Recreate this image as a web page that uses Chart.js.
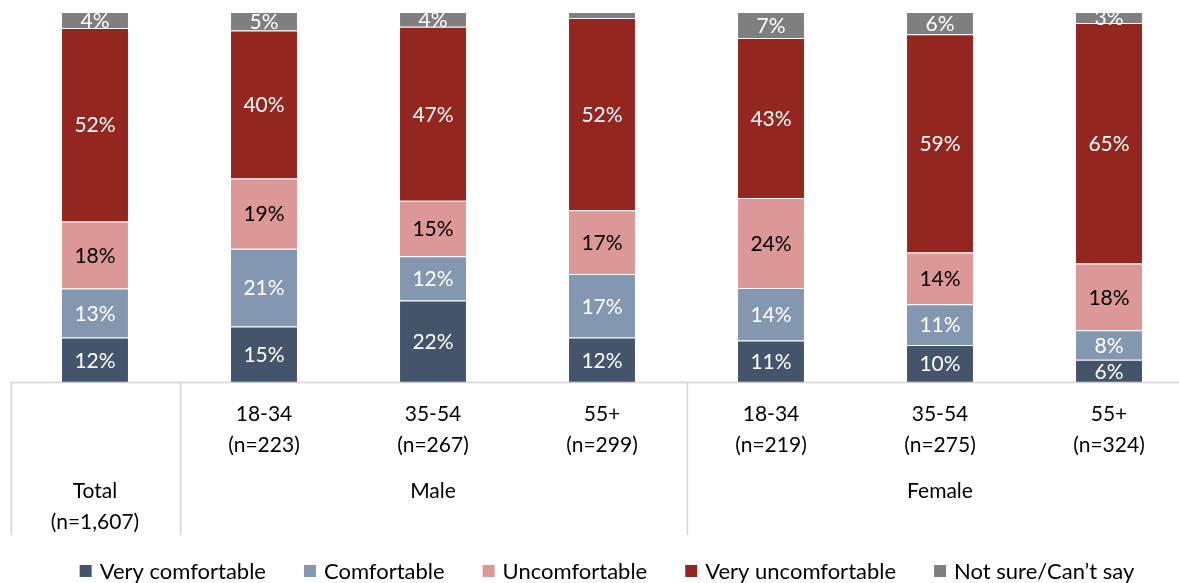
<!DOCTYPE html>
<html>
<head>
<meta charset="utf-8">
<script src="https://cdn.jsdelivr.net/npm/chart.js@4/dist/chart.umd.min.js"></script>
<style>
  html, body { margin: 0; padding: 0; background: #fff; overflow: hidden; }
  #wrap { position: relative; width: 1200px; height: 583px; }
</style>
</head>
<body>
<div id="wrap"><canvas id="chart"></canvas></div>
<script>
// Comfort level by gender and age, 100% stacked
const categoryLabels = [
  ["Total", "(n=1,607)"],
  ["18-34", "(n=223)"],
  ["35-54", "(n=267)"],
  ["55+", "(n=299)"],
  ["18-34", "(n=219)"],
  ["35-54", "(n=275)"],
  ["55+", "(n=324)"],
]
const groupLabels = ["", "Male", "Male", "Male", "Female", "Female", "Female"]

const veryComfortable = [12.0, 15, 22, 12.0, 11.2, 10, 6]
const comfortable = [13.3, 21, 12, 17.2, 14.2, 11, 8]
const uncomfortable = [18.1, 19, 15, 17.2, 24.3, 14, 18]
const veryUncomfortable = [52.3, 40, 47, 52.0, 43.3, 59, 65]
const notSure = [4.3, 5, 4, 1.6, 7.0, 6, 3]

const FONT = "Lato, 'Open Sans', sans-serif"

const series = [
  { label: "Very comfortable", data: veryComfortable, color: "#44546a", text: "#ffffff" },
  { label: "Comfortable", data: comfortable, color: "#8497b0", text: "#ffffff" },
  { label: "Uncomfortable", data: uncomfortable, color: "#dc9896", text: "#000000" },
  { label: "Very uncomfortable", data: veryUncomfortable, color: "#93261f", text: "#ffffff" },
  { label: "Not sure/Can\u2019t say", data: notSure, color: "#7f7f7f", text: "#ffffff" },
]

// value labels centred in each segment
const segmentLabels = {
  id: "segmentLabels",
  afterDatasetsDraw(chart) {
    const { ctx } = chart
    ctx.save()
    ctx.font = `21px ${FONT}`
    ctx.textAlign = "center"
    ctx.textBaseline = "middle"
    chart.data.datasets.forEach((ds, di) => {
      chart.getDatasetMeta(di).data.forEach((bar, i) => {
        const v = Math.round(ds.data[i])
        if (v < 3) return
        ctx.fillStyle = series[di].text
        ctx.fillText(`${v}%`, bar.x, (bar.y + bar.base) / 2 + 1)
      })
    })
    ctx.restore()
  },
}

// table-style axis: separator lines, category labels, group labels, legend
const tableAxis = {
  id: "tableAxis",
  afterDraw(chart) {
    const { ctx, chartArea } = chart
    const x = chart.scales.x
    const bottom = chartArea.bottom
    const step = x.getPixelForValue(1) - x.getPixelForValue(0)
    const edge = (i) => x.getPixelForValue(i) - step / 2

    ctx.save()
    ctx.strokeStyle = "#d4d4d4"
    ctx.lineWidth = 1.5
    ctx.beginPath()
    ctx.moveTo(edge(0), bottom + 0.5)
    ctx.lineTo(chart.width, bottom + 0.5)
    ;[0, 1, 4].forEach((i) => {
      const px = Math.round(edge(i)) + 0.5
      ctx.moveTo(px, bottom)
      ctx.lineTo(px, bottom + 153)
    })
    ctx.stroke()

    ctx.font = `21px ${FONT}`
    ctx.fillStyle = "#000000"
    ctx.textAlign = "center"
    ctx.textBaseline = "middle"
    categoryLabels.forEach((lines, i) => {
      const cx = x.getPixelForValue(i)
      const y0 = groupLabels[i] === "" ? bottom + 109 : bottom + 32
      lines.forEach((line, k) => ctx.fillText(line, cx, y0 + k * 31))
    })

    const groups = {}
    groupLabels.forEach((g, i) => {
      if (!g) return
      groups[g] = groups[g] || []
      groups[g].push(x.getPixelForValue(i))
    })
    Object.entries(groups).forEach(([g, xs]) => {
      ctx.fillText(g, (xs[0] + xs[xs.length - 1]) / 2, bottom + 109)
    })

    // legend
    ctx.font = `22px ${FONT}`
    const box = 12
    const gapText = 8
    const gapItem = 38
    const widths = chart.data.datasets.map((ds) => box + gapText + ctx.measureText(ds.label).width)
    const total = widths.reduce((a, b) => a + b, 0) + gapItem * (widths.length - 1)
    let lx = 607 - total / 2
    const ly = 571
    ctx.textAlign = "left"
    chart.data.datasets.forEach((ds, i) => {
      ctx.fillStyle = ds.backgroundColor
      ctx.fillRect(lx, ly - box / 2, box, box)
      ctx.fillStyle = "#000000"
      ctx.fillText(ds.label, lx + box + gapText, ly + 1)
      lx += widths[i] + gapItem
    })
    ctx.restore()
  },
}

new Chart(document.getElementById("chart"), {
  type: "bar",
  data: {
    labels: categoryLabels,
    datasets: series.map((s) => ({
      label: s.label,
      data: s.data,
      backgroundColor: s.color,
      borderColor: "rgba(255,255,255,0.4)",
      borderWidth: 1,
      categoryPercentage: 1,
      barPercentage: 0.402,
    })),
  },
  options: {
    responsive: true,
    maintainAspectRatio: false,
    animation: false,
    layout: { padding: { top: 12, left: 10.5, right: 6.5, bottom: 0 } },
    scales: {
      x: {
        stacked: true,
        grid: { display: false },
        border: { display: false },
        ticks: { display: false },
        afterFit: (scale) => { scale.height = 201 },
      },
      y: { stacked: true, display: false, min: 0, max: 100 },
    },
    plugins: { legend: { display: false }, tooltip: { enabled: false } },
  },
  plugins: [segmentLabels, tableAxis],
})
</script>
</body>
</html>
